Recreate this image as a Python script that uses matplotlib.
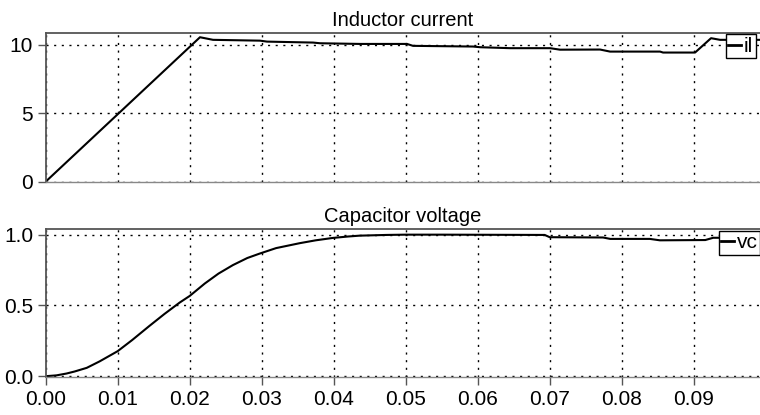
import matplotlib
matplotlib.use("Agg")
import matplotlib.pyplot as plt

# inductor current
t_il = [0.0, 0.02143, 0.02324, 0.02976, 0.03074, 0.03713, 0.03810, 0.04365,
        0.05018, 0.05101, 0.05935, 0.06032, 0.06449, 0.07004, 0.07143, 0.07699,
        0.07838, 0.08532, 0.08574, 0.09018, 0.09240, 0.09365, 0.0992]
il = [0.0, 10.56, 10.37, 10.31, 10.24, 10.17, 10.12, 10.07,
      10.07, 9.93, 9.88, 9.83, 9.76, 9.76, 9.65, 9.66,
      9.51, 9.51, 9.44, 9.44, 10.49, 10.37, 10.37]

# capacitor voltage
t_vc = [0.0, 0.0015, 0.0029, 0.0040, 0.0057, 0.0075, 0.0100, 0.0120, 0.0144,
        0.0165, 0.0186, 0.0200, 0.0221, 0.0240, 0.0260, 0.0280, 0.0297, 0.0320,
        0.0353, 0.0375, 0.0399, 0.0420, 0.0436, 0.0473, 0.0500, 0.0550, 0.0693,
        0.0700, 0.0774, 0.0784, 0.0839, 0.0853, 0.0916, 0.0927, 0.0992]
vc = [0.0, 0.006, 0.019, 0.033, 0.059, 0.105, 0.177, 0.255, 0.355,
      0.44, 0.52, 0.567, 0.655, 0.725, 0.785, 0.835, 0.866, 0.905,
      0.94, 0.96, 0.977, 0.987, 0.993, 0.998, 1.0, 1.0, 0.998,
      0.982, 0.98, 0.97, 0.97, 0.96, 0.962, 0.978, 0.978]

xticks = [0.00, 0.01, 0.02, 0.03, 0.04, 0.05, 0.06, 0.07, 0.08, 0.09]
il_ticks = [0, 5, 10]
vc_ticks = [0.0, 0.5, 1.0]

plt.rcParams.update({
    "font.family": ["Liberation Sans", "DejaVu Sans"],
    "xtick.labelsize": 15, "ytick.labelsize": 15,
})

SPINE = "#555555"
DOTS = (0, (1.5, 4))

fig = plt.figure(figsize=(7.6, 4.15), dpi=100)
ax1 = fig.add_axes([0.0601, 0.5603, 0.9399, 0.3602])
ax2 = fig.add_axes([0.0601, 0.0904, 0.9399, 0.3578])


def style(ax):
    ax.set_xlim(0, 0.0992)
    ax.set_xticks(xticks)
    ax.grid(True, color="black", linestyle=DOTS, linewidth=1.0)
    ax.spines["right"].set_visible(False)
    for s in ("left", "top"):
        ax.spines[s].set_color(SPINE)
        ax.spines[s].set_linewidth(1.3)
    ax.spines["bottom"].set_color("#888888")
    ax.spines["bottom"].set_linewidth(1.0)
    ax.tick_params(direction="out", length=6, width=1, color=SPINE, pad=3)


def legend(ax, x, y):
    leg = ax.legend(loc="upper left", bbox_to_anchor=(x, y), borderaxespad=0,
                    handlelength=0.6, handletextpad=0.15, borderpad=0.12,
                    fancybox=False, framealpha=1, edgecolor="black", fontsize=15)
    leg.get_frame().set_linewidth(1.0)
    for h in leg.get_lines():
        h.set_linewidth(2.0)


ax1.plot(t_il, il, color="black", lw=1.5, label="il")
style(ax1)
ax1.set_ylim(-0.06, 10.87)
ax1.set_yticks(il_ticks)
ax1.tick_params(axis="x", bottom=False, labelbottom=False)
ax1.set_title("Inductor current", fontsize=14.5, pad=5)
legend(ax1, 0.952, 0.991)

ax2.plot(t_vc, vc, color="black", lw=1.5, label="vc")
style(ax2)
ax2.set_ylim(-0.009, 1.04)
ax2.set_yticks(vc_ticks)
ax2.set_yticklabels([f"{v:.1f}" for v in vc_ticks])
ax2.set_xticklabels([f"{v:.2f}" for v in xticks])
ax2.set_title("Capacitor voltage", fontsize=14.5, pad=5)
legend(ax2, 0.942, 0.989)

fig.savefig("out.png", dpi=100)
